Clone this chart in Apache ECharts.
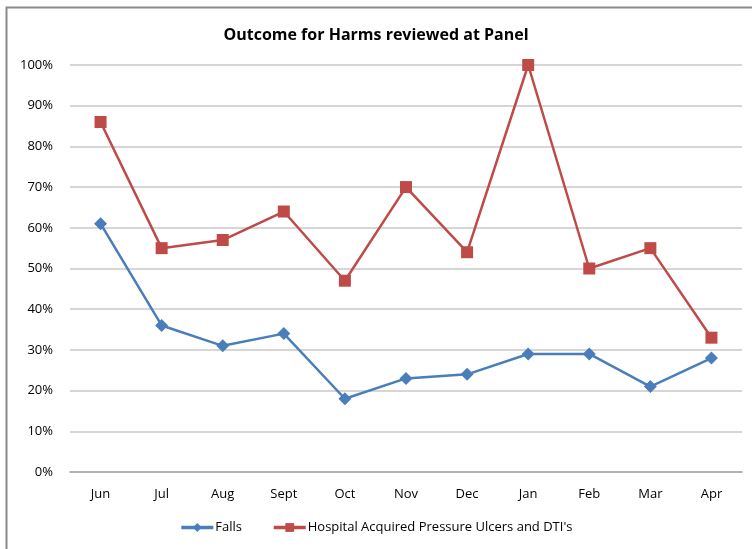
<!DOCTYPE html>
<html>
<head>
<meta charset="utf-8">
<script src="https://cdn.jsdelivr.net/npm/echarts@6/dist/echarts.min.js"></script>
<style>
  html, body { margin: 0; padding: 0; background: #fff; }
  #chart { width: 752px; height: 549px; }
</style>
</head>
<body>
<div id="chart"></div>
<script>
// Monthly outcome percentages for harms reviewed at panel
const months = ['Jun', 'Jul', 'Aug', 'Sept', 'Oct', 'Nov', 'Dec', 'Jan', 'Feb', 'Mar', 'Apr'];
const falls = [61, 36, 31, 34, 18, 23, 24, 29, 29, 21, 28];
const pressureUlcers = [86, 55, 57, 64, 47, 70, 54, 100, 50, 55, 33];
const yTicks = [0, 10, 20, 30, 40, 50, 60, 70, 80, 90, 100];

const FONT = "'Open Sans', sans-serif";
const BLUE = '#4A7EBB';
const RED = '#BE4B48';

const chart = echarts.init(document.getElementById('chart'), null, { renderer: 'canvas' });

chart.setOption({
  backgroundColor: '#fff',
  animation: false,
  title: {
    text: 'Outcome for Harms reviewed at Panel',
    left: 'center',
    top: 22,
    textStyle: { fontFamily: FONT, fontSize: 16, fontWeight: 'bold', color: '#000' }
  },
  graphic: [{
    type: 'rect',
    shape: { x: 6.5, y: 7.5, width: 760, height: 560 },
    style: { fill: 'none', stroke: '#8a8a8a', lineWidth: 2 },
    silent: true
  }],
  grid: { left: 70, right: 10, top: 65, bottom: 77, containLabel: false },
  legend: {
    bottom: 10,
    left: 'center',
    itemWidth: 32,
    itemHeight: 11,
    itemGap: 30,
    lineStyle: { width: 3.5 },
    textStyle: { fontFamily: FONT, fontSize: 13, color: '#000', padding: [0, 0, 0, -3] },
    data: ['Falls', "Hospital Acquired Pressure Ulcers and DTI's"]
  },
  xAxis: {
    type: 'category',
    data: months,
    boundaryGap: true,
    axisLine: { lineStyle: { color: '#a6a6a6', width: 1.5 } },
    axisTick: { show: false },
    axisLabel: { fontFamily: FONT, fontSize: 13, color: '#000', margin: 16 }
  },
  yAxis: {
    type: 'value',
    min: yTicks[0],
    max: yTicks[yTicks.length - 1],
    interval: 10,
    axisLine: { show: false },
    axisTick: { show: false },
    splitLine: { lineStyle: { color: '#c8c8c8', width: 1.5 } },
    axisLabel: {
      fontFamily: FONT, fontSize: 13, color: '#000', margin: 17,
      formatter: v => v + '%'
    }
  },
  series: [
    {
      name: 'Falls',
      type: 'line',
      data: falls,
      symbol: 'diamond',
      symbolSize: 13,
      lineStyle: { color: BLUE, width: 2.5 },
      itemStyle: { color: BLUE },
      z: 3
    },
    {
      name: "Hospital Acquired Pressure Ulcers and DTI's",
      type: 'line',
      data: pressureUlcers,
      symbol: 'rect',
      symbolSize: 12,
      lineStyle: { color: RED, width: 2.5 },
      itemStyle: { color: RED },
      z: 2
    }
  ]
});
</script>
</body>
</html>
